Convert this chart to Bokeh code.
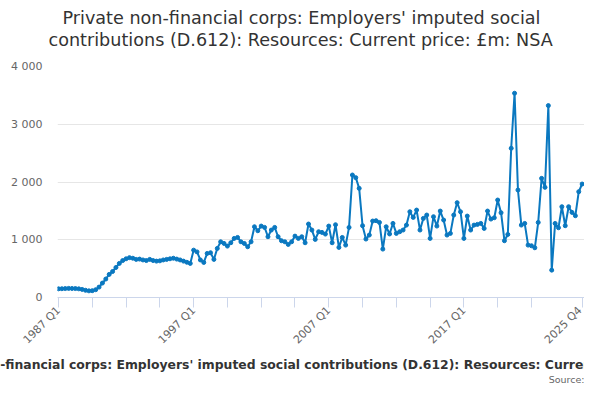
import math
from bokeh.plotting import figure
from bokeh.models import ColumnDataSource, Range1d, FixedTicker, Title
from bokeh.embed import file_html
from bokeh.resources import INLINE

title_lines = [
    "Private non-financial corps: Employers' imputed social",
    "contributions (D.612): Resources: Current price: £m: NSA",
]
x_axis_title = ("Private non-financial corps: Employers' imputed social contributions "
                "(D.612): Resources: Current price: £m: NSA")
source_text = "Source:"

start_year = 1987
values = [
    150, 152, 155, 158, 156, 155, 150, 140, 125, 115,
    118, 135, 180, 250, 320, 400, 450, 520, 590, 640,
    670, 690, 680, 660, 665, 650, 640, 660, 640, 630,
    635, 650, 660, 670, 680, 665, 650, 630, 610, 590,
    820, 790, 650, 607, 763, 775, 660, 850, 965, 936,
    890, 948, 1023, 1040, 965, 936, 879, 965, 1225, 1156,
    1237, 1214, 1052, 1168, 1214, 1052, 983, 965, 919, 965,
    1063, 1023, 1052, 948, 1272, 1168, 1006, 1139, 1127, 1098,
    1237, 948, 1260, 867, 1040, 907, 1214, 2121, 2075, 1890,
    1243, 1012, 1081, 1324, 1330, 1300, 838, 1225, 1100, 1283,
    1110, 1139, 1168, 1254, 1485, 1387, 1514, 1168, 1370, 1428,
    1023, 1399, 1237, 1497, 1341, 1081, 1110, 1428, 1642, 1485,
    1023, 1410, 1168, 1254, 1266, 1283, 1196, 1497, 1358, 1381,
    1688, 1468, 983, 1092, 2584, 3537, 1861, 1254, 1283, 907,
    896, 861, 1300, 2063, 1907, 3323, 474, 1283, 1208, 1572,
    1243, 1572, 1474, 1416, 1832, 1965,
]
quarters = [f"{start_year + k // 4} Q{k % 4 + 1}" for k in range(len(values))]
x_idx = list(range(len(values)))

x_tick_pos = [0, 10, 20, 30, 40, 50, 60, 70, 80, 90, 100, 110, 120, 130, 140, 155]
x_label_pos = [0, 40, 80, 120, 155]
y_ticks = [0, 1000, 2000, 3000, 4000]
y_labels = ["0", "1 000", "2 000", "3 000", "4 000"]

src = ColumnDataSource(dict(x=x_idx, y=values, q=quarters))

FONT = "DejaVu Sans"
BLUE = "#0a78c0"

p = figure(width=584, height=384, output_backend="svg", toolbar_location=None,
           x_range=Range1d(-0.3, len(values) - 1 + 0.7), y_range=Range1d(0, 4000),
           min_border_left=57, min_border_right=0, min_border_top=66, min_border_bottom=87)
p.outline_line_color = None
p.background_fill_color = "white"
p.border_fill_color = "white"

p.line("x", "y", source=src, line_color=BLUE, line_width=2)
p.scatter("x", "y", source=src, size=4, fill_color=BLUE, line_color=BLUE)

# above: spacer closest to the plot, then title line 2, then title line 1
p.add_layout(Title(text=" ", text_font=FONT, text_font_size="10px", standoff=4), "above")
p.add_layout(Title(text=title_lines[1], align="left", offset=-9, text_font=FONT,
                   text_font_size="17.6px", text_font_style="normal", text_color="#333333",
                   standoff=0), "above")
p.add_layout(Title(text=title_lines[0], align="left", offset=5, text_font=FONT,
                   text_font_size="17.6px", text_font_style="normal", text_color="#333333",
                   standoff=0), "above")

xa = p.xaxis[0]
xa.ticker = FixedTicker(ticks=x_tick_pos, minor_ticks=[])
xa.major_label_overrides = {t: (quarters[t] if t in x_label_pos else "") for t in x_tick_pos}
xa.major_label_orientation = math.pi / 4
xa.major_label_text_font = FONT
xa.major_label_text_font_size = "11px"
xa.major_label_text_color = "#666666"
xa.major_label_standoff = 1
xa.axis_line_color = "#ccd6eb"
xa.major_tick_line_color = "#ccd6eb"
xa.major_tick_out = 10
xa.major_tick_in = 0
xa.minor_tick_line_color = None

# below: x-axis title (wide, overflowing like the reference), then source
p.add_layout(Title(text=x_axis_title, align="left", offset=-138, text_font=FONT,
                   text_font_size="12.4px", text_font_style="bold", text_color="#333333",
                   standoff=0), "below")
p.add_layout(Title(text=source_text, align="right", offset=0, text_font=FONT,
                   text_font_size="9.5px", text_font_style="normal", text_color="#666666",
                   standoff=0), "below")

ya = p.yaxis[0]
ya.ticker = FixedTicker(ticks=y_ticks, minor_ticks=[])
ya.major_label_overrides = dict(zip(y_ticks, y_labels))
ya.major_label_text_font = FONT
ya.major_label_text_font_size = "11px"
ya.major_label_text_color = "#666666"
ya.axis_line_color = None
ya.major_tick_line_color = None
ya.minor_tick_line_color = None
ya.major_label_standoff = 9

p.xgrid.grid_line_color = None
p.ygrid.grid_line_color = "#e6e6e6"
p.ygrid.ticker = FixedTicker(ticks=y_ticks)

open("out.html", "w").write(file_html(p, INLINE))
